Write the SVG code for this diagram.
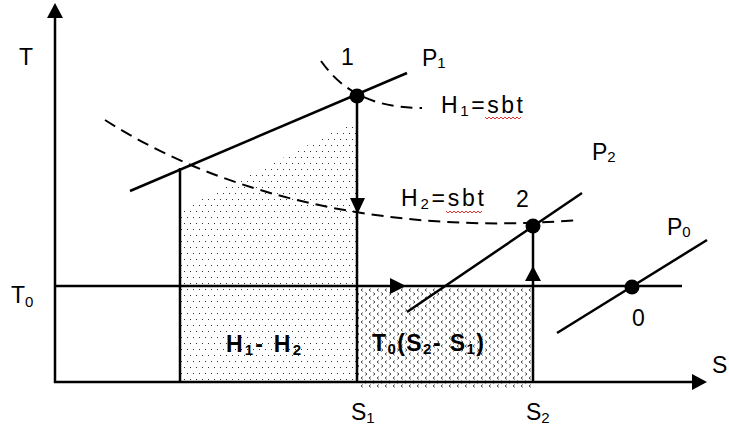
<svg xmlns="http://www.w3.org/2000/svg" width="729" height="434" viewBox="0 0 729 434">
<style>
.ln{stroke:#000;stroke-width:2.5;fill:none}
.ds{stroke:#000;stroke-width:2;fill:none;stroke-dasharray:12 7}
.ah{fill:#000;stroke:none}
.pt{fill:#000}
.t{font-family:"Liberation Sans",Arial,sans-serif;font-size:23px;fill:#000}
.b{font-family:"Liberation Sans",Arial,sans-serif;font-size:23px;font-weight:bold;fill:#000}
.sub{font-size:15px}
.sq{stroke:#e03030;stroke-width:1;fill:none}
</style>
<defs>
<pattern id="dots" width="6" height="12" patternUnits="userSpaceOnUse">
<rect x="1" y="1" width="1" height="1" fill="#333"/>
<rect x="4" y="7" width="1" height="1" fill="#333"/>
</pattern>
<pattern id="chev" width="8" height="8" patternUnits="userSpaceOnUse">
<path d="M2.8,0.6 L1,2 L2.8,3.4" stroke="#333" stroke-width="0.9" fill="none"/>
<path d="M5.2,4.6 L7,6 L5.2,7.4" stroke="#333" stroke-width="0.9" fill="none"/>
</pattern>
</defs>
<rect width="729" height="434" fill="#fff"/>

<g id="regions">
<polygon points="181,210 353,122 356,122 356,381 181,381" fill="url(#dots)"/>
<rect x="358" y="288" width="174" height="100" fill="url(#chev)"/>
</g>

<g id="axes">
<line class="ln" x1="55" y1="383" x2="55" y2="16"/>
<polygon class="ah" points="55,3 47,18 63,18"/>
<line class="ln" x1="54" y1="382" x2="694" y2="382"/>
<polygon class="ah" points="707,382 692,374 692,390"/>
<line class="ln" x1="55" y1="286" x2="682" y2="286"/>
<text class="t" x="19" y="65">T</text>
<text class="t" x="11" y="303">T<tspan class="sub" dy="4">0</tspan></text>
<text class="t" x="712" y="373">S</text>
<text class="t" x="351" y="420">S<tspan class="sub" dy="3">1</tspan></text>
<text class="t" x="526" y="420">S<tspan class="sub" dy="3">2</tspan></text>
</g>

<g id="curves">
<line id="P1" class="ln" x1="130" y1="191" x2="407" y2="73"/>
<line id="P2" class="ln" x1="407" y1="312" x2="582" y2="193"/>
<line id="P0" class="ln" x1="557" y1="333" x2="707" y2="240"/>
<path id="H1" class="ds" d="M321,61 C338,85 365,108 422,108"/>
<path id="H2" class="ds" d="M105,120 C230,200 400,235 578,220"/>
<text class="t" x="422" y="66">P<tspan class="sub" dy="2">1</tspan></text>
<text class="t" x="592" y="160">P<tspan class="sub" dy="2">2</tspan></text>
<text class="t" x="667" y="235">P<tspan class="sub" dy="2">0</tspan></text>
<text class="t" x="441" y="113" textLength="82" lengthAdjust="spacing">H<tspan class="sub" dy="3">1</tspan><tspan dy="-3">=sbt</tspan></text>
<path class="sq" d="M485,117 l2,2 l2,-2 l2,2 l2,-2 l2,2 l2,-2 l2,2 l2,-2 l2,2 l2,-2 l2,2 l2,-2 l2,2 l2,-2 l2,2 l2,-2 l2,2 l2,-2"/>
<text class="t" x="401" y="206" textLength="83" lengthAdjust="spacing">H<tspan class="sub" dy="3">2</tspan><tspan dy="-3">=sbt</tspan></text>
<path class="sq" d="M446,211 l2,2 l2,-2 l2,2 l2,-2 l2,2 l2,-2 l2,2 l2,-2 l2,2 l2,-2 l2,2 l2,-2 l2,2 l2,-2 l2,2 l2,-2 l2,2 l2,-2"/>
</g>

<g id="connectors">
<line class="ln" x1="180" y1="168" x2="180" y2="382"/>
<line class="ln" x1="357" y1="96" x2="357" y2="382"/>
<polygon class="ah" points="350,198 365,198 357.5,214"/>
<line class="ln" x1="533" y1="226" x2="533" y2="382"/>
<polygon class="ah" points="525,281 541,281 533,266"/>
<polygon class="ah" points="406,286 390,278 390,294"/>
</g>

<g id="node1">
<circle class="pt" cx="357" cy="96" r="7.5"/>
<text class="t" x="341" y="65">1</text>
</g>
<g id="node2">
<circle class="pt" cx="533" cy="226" r="7.5"/>
<text class="t" x="516" y="207">2</text>
</g>
<g id="node0">
<circle class="pt" cx="632" cy="287" r="7.5"/>
<text class="t" x="632" y="326">0</text>
</g>

<g id="areaLabels">
<text class="b" x="226" y="352" textLength="75" lengthAdjust="spacing">H<tspan class="sub" dy="3">1</tspan><tspan dy="-3">- H</tspan><tspan class="sub" dy="3">2</tspan></text>
<text class="b" x="372" y="351" textLength="112" lengthAdjust="spacing">T<tspan class="sub" dy="3">0</tspan><tspan dy="-3">(S</tspan><tspan class="sub" dy="3">2</tspan><tspan dy="-3">- S</tspan><tspan class="sub" dy="3">1</tspan><tspan dy="-3">)</tspan></text>
</g>
</svg>
